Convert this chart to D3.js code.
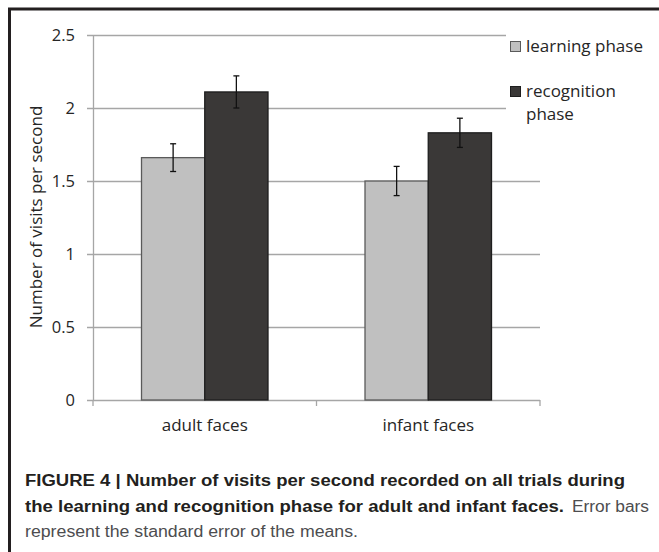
<!DOCTYPE html>
<html>
<head>
<meta charset="utf-8">
<script src="https://cdn.jsdelivr.net/npm/d3@7"></script>
<style>
  html, body { margin: 0; padding: 0; background: #fff; }
  svg { display: block; }
</style>
</head>
<body>
<svg id="chart" width="659" height="552"></svg>
<script>
const categories = ["adult faces", "infant faces"];
const seriesNames = ["learning phase", "recognition phase"];
const learningValues = [1.66, 1.50];
const recognitionValues = [2.11, 1.83];
const learningErrors = [0.095, 0.10];
const recognitionErrors = [0.11, 0.10];
const yTicks = [0, 0.5, 1, 1.5, 2, 2.5];
const yTickLabels = ["0", "0.5", "1", "1.5", "2", "2.5"];
const yTitle = "Number of visits per second";
const captionBold1 = "FIGURE 4 | Number of visits per second recorded on all trials during";
const captionBold2 = "the learning and recognition phase for adult and infant faces.";
const captionReg2 = "Error bars";
const captionReg3 = "represent the standard error of the means.";

const fills = ["#c0c0c0", "#3a3837"];
const strokes = ["#5a5a5a", "#1e1e1e"];
const chartFont = "'Open Sans', 'Noto Sans', sans-serif";
const capFont = "'Liberation Sans', Arial, sans-serif";
const fs = 16.5;

const svg = d3.select("#chart");

// frame (top and left rules)
svg.append("line").attr("x1", 8).attr("x2", 659).attr("y1", 9).attr("y2", 9)
  .attr("stroke", "#231f20").attr("stroke-width", 3);
svg.append("line").attr("x1", 9.5).attr("x2", 9.5).attr("y1", 8).attr("y2", 552)
  .attr("stroke", "#231f20").attr("stroke-width", 3);

const y = d3.scaleLinear().domain([0, 2.5]).range([400, 35]);
const x0 = d3.scaleBand().domain(categories).range([93, 540]).paddingInner(0.434).paddingOuter(0.217);
const x1 = d3.scaleBand().domain(seriesNames).range([0, x0.bandwidth()]);

const grid = svg.append("g");
grid.selectAll("line.grid").data(yTicks).join("line")
  .attr("x1", 87).attr("x2", 540)
  .attr("y1", d => Math.round(y(d)) + 0.5).attr("y2", d => Math.round(y(d)) + 0.5)
  .attr("stroke", "#a6a6a6").attr("stroke-width", 1.3);

// white legend box covering gridlines
svg.append("rect").attr("x", 506).attr("y", 25).attr("width", 150).attr("height", 110).attr("fill", "#fff");

// y axis line
svg.append("line").attr("x1", 93.5).attr("x2", 93.5).attr("y1", y(2.5)).attr("y2", y(0))
  .attr("stroke", "#a6a6a6").attr("stroke-width", 1.3);

// x axis ticks at category boundaries
const boundaries = [93, (x0("adult faces") + x0.bandwidth() + x0("infant faces")) / 2, 540];
svg.selectAll("line.xt").data(boundaries).join("line")
  .attr("x1", d => d).attr("x2", d => d).attr("y1", y(0)).attr("y2", y(0) + 6)
  .attr("stroke", "#a6a6a6").attr("stroke-width", 1.3);

// y tick labels
svg.selectAll("text.yt").data(yTicks).join("text")
  .attr("x", 75).attr("y", d => y(d) + 6)
  .attr("text-anchor", "end").attr("font-family", chartFont).attr("font-size", fs)
  .attr("fill", "#262626").text((d, i) => yTickLabels[i]);

// y title
svg.append("text")
  .attr("transform", `translate(42, 217) rotate(-90)`)
  .attr("text-anchor", "middle").attr("font-family", chartFont).attr("font-size", 17)
  .attr("fill", "#262626").text(yTitle);

// x labels
svg.selectAll("text.xl").data(categories).join("text")
  .attr("x", d => x0(d) + x0.bandwidth() / 2).attr("y", 431)
  .attr("text-anchor", "middle").attr("font-family", chartFont).attr("font-size", 17)
  .attr("fill", "#262626").text(d => d);

// bars
const rows = categories.map((c, i) => ({
  cat: c,
  vals: [
    { s: seriesNames[0], v: learningValues[i], e: learningErrors[i], k: 0 },
    { s: seriesNames[1], v: recognitionValues[i], e: recognitionErrors[i], k: 1 }
  ]
}));

const groups = svg.selectAll("g.grp").data(rows).join("g")
  .attr("transform", d => `translate(${x0(d.cat)},0)`);

groups.selectAll("rect").data(d => d.vals).join("rect")
  .attr("x", d => x1(d.s)).attr("width", x1.bandwidth())
  .attr("y", d => y(d.v)).attr("height", d => y(0) - y(d.v))
  .attr("fill", d => fills[d.k]).attr("stroke", d => strokes[d.k]).attr("stroke-width", 1.3);

// error bars
const eb = groups.selectAll("g.eb").data(d => d.vals).join("g");
eb.append("line")
  .attr("x1", d => x1(d.s) + x1.bandwidth() / 2).attr("x2", d => x1(d.s) + x1.bandwidth() / 2)
  .attr("y1", d => y(d.v + d.e)).attr("y2", d => y(d.v - d.e))
  .attr("stroke", "#111").attr("stroke-width", 1.3);
eb.append("line")
  .attr("x1", d => x1(d.s) + x1.bandwidth() / 2 - 3).attr("x2", d => x1(d.s) + x1.bandwidth() / 2 + 3)
  .attr("y1", d => y(d.v + d.e)).attr("y2", d => y(d.v + d.e))
  .attr("stroke", "#111").attr("stroke-width", 1.3);
eb.append("line")
  .attr("x1", d => x1(d.s) + x1.bandwidth() / 2 - 3).attr("x2", d => x1(d.s) + x1.bandwidth() / 2 + 3)
  .attr("y1", d => y(d.v - d.e)).attr("y2", d => y(d.v - d.e))
  .attr("stroke", "#111").attr("stroke-width", 1.3);

// legend
const legend = svg.append("g");
const legY = [41, 86];
legend.selectAll("rect").data(seriesNames).join("rect")
  .attr("x", 510.5).attr("y", (d, i) => legY[i] + 0.5).attr("width", 10).attr("height", 10)
  .attr("fill", (d, i) => fills[i]).attr("stroke", (d, i) => strokes[i]).attr("stroke-width", 1);
legend.append("text").attr("x", 526).attr("y", 52).attr("font-family", chartFont).attr("font-size", 17)
  .attr("fill", "#262626").text("learning phase");
const t2 = legend.append("text").attr("x", 526).attr("y", 97).attr("font-family", chartFont).attr("font-size", 17)
  .attr("fill", "#262626");
t2.append("tspan").attr("x", 526).text("recognition");
t2.append("tspan").attr("x", 526).attr("dy", 23).text("phase");

// caption
svg.append("text").attr("x", 25).attr("y", 486).attr("font-family", capFont).attr("font-weight", "bold")
  .attr("font-size", 16).attr("fill", "#231f20")
  .attr("textLength", 600).attr("lengthAdjust", "spacingAndGlyphs").text(captionBold1);
svg.append("text").attr("x", 25).attr("y", 512).attr("font-family", capFont).attr("font-weight", "bold")
  .attr("font-size", 16).attr("fill", "#231f20")
  .attr("textLength", 539).attr("lengthAdjust", "spacingAndGlyphs").text(captionBold2);
svg.append("text").attr("x", 572).attr("y", 512).attr("font-family", capFont)
  .attr("font-size", 16).attr("fill", "#4d4d4f")
  .attr("textLength", 77).attr("lengthAdjust", "spacingAndGlyphs").text(captionReg2);
svg.append("text").attr("x", 25).attr("y", 537).attr("font-family", capFont)
  .attr("font-size", 16).attr("fill", "#4d4d4f")
  .attr("textLength", 333).attr("lengthAdjust", "spacingAndGlyphs").text(captionReg3);
</script>
</body>
</html>
